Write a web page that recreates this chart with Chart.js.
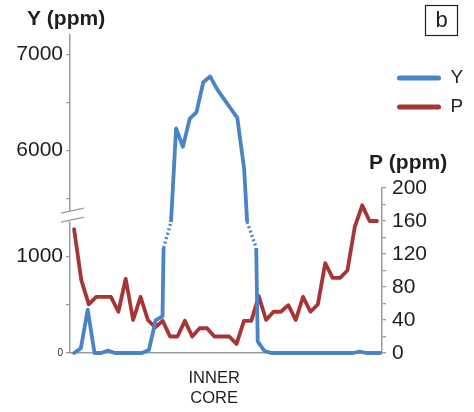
<!DOCTYPE html>
<html>
<head>
<meta charset="utf-8">
<script src="https://cdn.jsdelivr.net/npm/chart.js@4.4.1/dist/chart.umd.min.js"></script>
<style>
html,body{margin:0;padding:0;background:#ffffff;}
#wrap{width:474px;height:412px;}
</style>
</head>
<body>
<div id="wrap"><canvas id="c" width="474" height="412"></canvas></div>
<script>
// ---------------- data ----------------
// Y (ppm): sample positions along the traverse and measured values
const yPositions = [0,1,2,3,4,5,6,7,8,9,10,11,12,13,14,15,16,17,18,19,20,21,22,23,24,25,26,27,28,29,30,31,32,33,34,35,36,37,38,39,40,41,42,43,44,45];
const yValues = [0,50,450,0,0,25,0,0,0,0,0,30,340,380,4930,6230,6040,6330,6400,6710,6770,6640,6540,6440,6340,5815,4580,120,20,0,0,0,0,0,0,0,0,0,0,0,0,0,15,0,0,0];

// P (ppm): sample positions along the same traverse and measured values
const pPositions = [0,1.07,2.16,3.25,4.33,5.42,6.51,7.59,8.68,9.77,10.85,11.94,13.03,14.11,15.2,16.29,17.37,18.46,19.55,20.63,21.72,22.81,23.89,24.98,26.07,27.15,28.24,29.33,30.41,31.5,32.59,33.67,34.76,35.85,36.93,38.02,39.11,40.19,41.28,42.37,43.45,44.54];
const pValues = [150,88,59,68,68,68,50,90,40,68,40,31,39,20,20,39,20,30,30,20,20,20,11,39,39,69,40,50,50,58,40,68,50,59,109,91,91,100,153,179,160,160];

// tick labels
const yTickValues = [0, 500, 1000, 5500, 6000, 6500, 7000];
const yTickLabels = ['0', '', '1000', '', '6000', '', '7000'];
const pTickValues = [0, 20, 40, 60, 80, 100, 120, 140, 160, 180, 200];
const pTickLabels = ['0', '', '40', '', '80', '', '120', '', '160', '', '200'];
const xLabel = ['INNER', 'CORE'];
const xLabelAt = 20.6;

// axis break for the Y axis (ppm)
const BREAK_SHIFT = 3900;     // ppm cut out of the axis
const LOW_LIMIT = 1090;       // top of the lower panel
const HIGH_LIMIT = 5260;      // bottom of the upper panel
const BREAK_MARK_AT = 1425;   // where the break symbol sits (axis units)

// ---------------- styles ----------------
const FONT = "'Liberation Sans', Arial, Helvetica, sans-serif";
const BLUE = '#4a84c4';
const RED = '#a63535';
const AXIS = '#9b9b9b';
const TEXT = '#1e1e1e';
const P_AXIS_PX = 165;

const toAxis = v => (v <= LOW_LIMIT ? v : v - BREAK_SHIFT);

const lowData = yPositions.map((x, i) => ({x, y: yValues[i]}));
const highData = yPositions.map((x, i) => ({x, y: yValues[i] - BREAK_SHIFT}));
const pData = pPositions.map((x, i) => ({x, y: pValues[i]}));

function crossings(level) {
  const out = [];
  for (let i = 0; i < yValues.length - 1; i++) {
    const a = yValues[i], b = yValues[i + 1];
    if ((a - level) * (b - level) < 0) {
      const t = (level - a) / (b - a);
      out.push(yPositions[i] + t * (yPositions[i + 1] - yPositions[i]));
    }
  }
  return out;
}
const lowX = crossings(LOW_LIMIT);
const highX = crossings(HIGH_LIMIT);
const linkData = [];
for (let j = 0; j < lowX.length; j++) {
  if (j > 0) linkData.push({x: (lowX[j - 1] + lowX[j]) / 2, y: null});
  const pts = [{x: lowX[j], y: LOW_LIMIT}, {x: highX[j], y: HIGH_LIMIT - BREAK_SHIFT}];
  pts.sort((a, b) => a.x - b.x);
  linkData.push(...pts);
}

// ---------------- plugins ----------------
const panelClip = {
  id: 'panelClip',
  beforeDatasetDraw(chart, args) {
    const ds = chart.data.datasets[args.index];
    if (!ds.panel) return;
    const s = chart.scales.y, ctx = chart.ctx;
    ctx.save();
    ctx.beginPath();
    if (ds.panel === 'low') {
      const top = s.getPixelForValue(LOW_LIMIT);
      ctx.rect(0, top, chart.width, chart.height - top);
    } else {
      const bottom = s.getPixelForValue(HIGH_LIMIT - BREAK_SHIFT);
      ctx.rect(0, 0, chart.width, bottom);
    }
    ctx.clip();
  },
  afterDatasetDraw(chart, args) {
    if (chart.data.datasets[args.index].panel) chart.ctx.restore();
  }
};

const axisLayout = {
  id: 'axisLayout',
  afterLayout(chart) {
    const s = chart.scales.y2;
    s.top = s.bottom - P_AXIS_PX;
    s.height = P_AXIS_PX;
    s.configure();
    // let tick labels extend beyond the narrow axis boxes
    chart.scales.y._computeLabelArea = () => null;
    chart.scales.y2._computeLabelArea = () => null;
  }
};

const decorations = {
  id: 'decorations',
  afterDraw(chart) {
    const ctx = chart.ctx;
    const ys = chart.scales.y, y2 = chart.scales.y2;
    // axis break symbol
    const bx = ys.right, by = ys.getPixelForValue(BREAK_MARK_AT);
    ctx.save();
    ctx.fillStyle = '#ffffff';
    ctx.beginPath();
    ctx.moveTo(bx - 4, by - 3.5); ctx.lineTo(bx + 4, by - 5.2);
    ctx.lineTo(bx + 4, by + 4.8); ctx.lineTo(bx - 4, by + 6.5);
    ctx.closePath(); ctx.fill();
    ctx.strokeStyle = AXIS; ctx.lineWidth = 1.4;
    [-4.5, 4.5].forEach(d => {
      ctx.beginPath();
      ctx.moveTo(bx - 9, by + d + 2);
      ctx.lineTo(bx + 14, by + d - 3);
      ctx.stroke();
    });
    // P axis title
    ctx.fillStyle = TEXT;
    ctx.font = 'bold 21px ' + FONT;
    ctx.textBaseline = 'middle';
    ctx.textAlign = 'left';
    ctx.fillText('P (ppm)', y2.left - 13, y2.top - 25);
    // panel letter
    const rx = chart.width - 49, ry = 5;
    ctx.strokeStyle = '#222'; ctx.lineWidth = 1.2;
    ctx.strokeRect(rx + 0.5, ry + 0.5, 32, 30);
    ctx.font = '22px ' + FONT;
    ctx.textAlign = 'center';
    ctx.fillText('b', rx + 16.5, ry + 16);
    ctx.restore();
  }
};

// ---------------- chart ----------------
new Chart(document.getElementById('c'), {
  type: 'line',
  data: {
    datasets: [
      {label: 'Y', data: lowData, panel: 'low', yAxisID: 'y', borderColor: BLUE, borderWidth: 3.8,
       pointRadius: 0, tension: 0, borderJoinStyle: 'round', borderCapStyle: 'round', clip: false},
      {label: 'Y upper', data: highData, panel: 'high', yAxisID: 'y', borderColor: BLUE, borderWidth: 3.8,
       pointRadius: 0, tension: 0, borderJoinStyle: 'round', borderCapStyle: 'round', clip: false},
      {label: 'Y break', data: linkData, yAxisID: 'y', borderColor: BLUE, borderWidth: 3.4,
       borderDash: [2, 2.6], pointRadius: 0, tension: 0, spanGaps: false, clip: false},
      {label: 'P', data: pData, yAxisID: 'y2', borderColor: RED, borderWidth: 3.8,
       pointRadius: 0, tension: 0, borderJoinStyle: 'round', borderCapStyle: 'round'}
    ]
  },
  options: {
    responsive: false,
    animation: false,
    devicePixelRatio: 1,
    layout: {padding: {left: 27, right: 9, top: 0, bottom: 0}},
    scales: {
      x: {
        type: 'linear', min: -0.603, max: 45.28,
        grid: {display: false},
        border: {display: true, color: AXIS, width: 1.5},
        afterBuildTicks: s => { s.ticks = [{value: xLabelAt}]; },
        afterFit: s => { s.height = 59; },
        ticks: {autoSkip: false, maxRotation: 0, padding: 8, color: TEXT,
                font: {family: FONT, size: 16.5}, callback: () => xLabel}
      },
      y: {
        type: 'linear', position: 'left', min: 0, max: 3300,
        grid: {drawOnChartArea: false, drawTicks: true, tickLength: 4, color: AXIS, lineWidth: 1.3},
        border: {display: true, color: AXIS, width: 1.5},
        afterBuildTicks: s => { s.ticks = yTickValues.map(v => ({value: toAxis(v)})); },
        afterFit: s => { s.width = 43; },
        ticks: {autoSkip: false, padding: 3, color: TEXT,
                font: c => ({family: FONT, size: (c.tick && c.tick.value === 0) ? 10 : 21}),
                callback: (v, i) => yTickLabels[i]}
      },
      y2: {
        type: 'linear', position: 'right', min: 0, max: 200,
        grid: {drawOnChartArea: false, drawTicks: true, tickLength: 4, color: AXIS, lineWidth: 1.3},
        border: {display: true, color: AXIS, width: 1.5},
        afterBuildTicks: s => { s.ticks = pTickValues.map(v => ({value: v})); },
        afterFit: s => { s.width = 5; },
        ticks: {autoSkip: false, padding: 6, color: TEXT, font: {family: FONT, size: 21},
                callback: (v, i) => pTickLabels[i]}
      }
    },
    plugins: {
      tooltip: {enabled: false},
      title: {display: true, text: 'Y (ppm)', align: 'start', color: TEXT,
              font: {family: FONT, size: 21, weight: 'bold'}, padding: {top: 6.8, bottom: 3}},
      legend: {
        position: 'right', align: 'start', maxWidth: 78,
        title: {display: true, text: ' ', font: {size: 10}, padding: {top: 46.5, bottom: 0}},
        labels: {
          boxWidth: 44, boxHeight: 5, padding: 10, color: TEXT,
          font: {family: FONT, size: 19},
          generateLabels: () => [
            {text: 'Y', fillStyle: BLUE, strokeStyle: BLUE, fontColor: TEXT, lineWidth: 0, borderRadius: 2.5, datasetIndex: 0, hidden: false},
            {text: 'P', fillStyle: RED, strokeStyle: RED, fontColor: TEXT, lineWidth: 0, borderRadius: 2.5, datasetIndex: 3, hidden: false}
          ]
        }
      }
    }
  },
  plugins: [panelClip, axisLayout, decorations]
});
</script>
</body>
</html>
